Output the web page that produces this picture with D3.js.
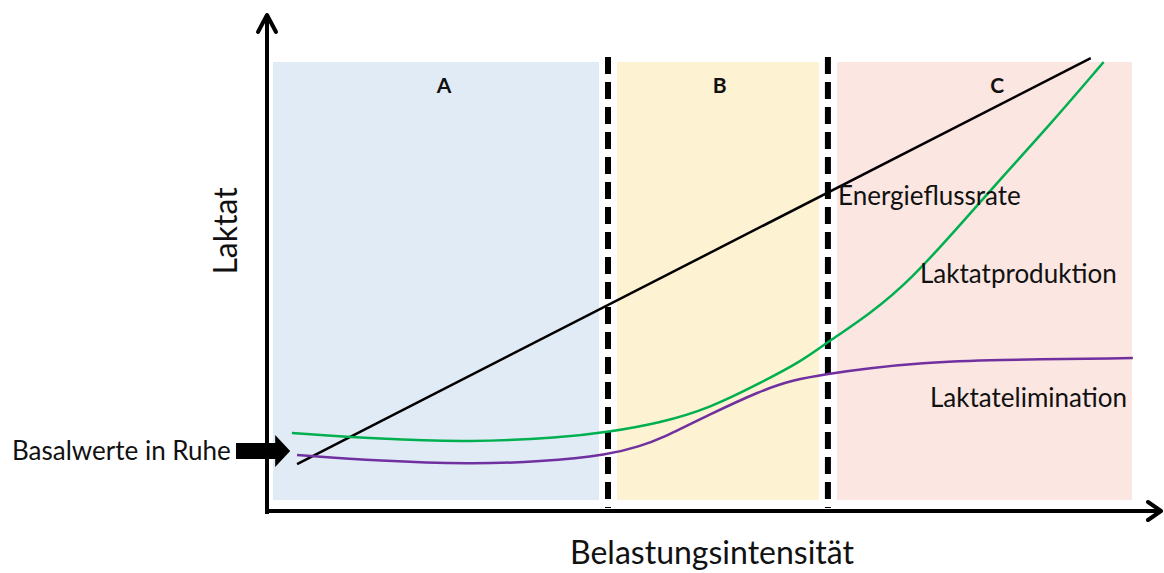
<!DOCTYPE html>
<html>
<head>
<meta charset="utf-8">
<script src="https://cdn.jsdelivr.net/npm/d3@7"></script>
<style>
    body { margin: 0; background: #fff; }
    svg { display: block; font-family: Lato, "Open Sans", sans-serif; }
    .lbl { font-size: 26px; fill: #111; }
    .zone { font-size: 21px; font-weight: bold; fill: #111; }
    .title { font-size: 32px; fill: #111; }
</style>
</head>
<body>
<div id="chart"></div>
<script>
// zones and their borders (Belastung in %)
var zoneNames = ["A", "B", "C"];
var zoneBorders = [0, 39.0, 64.6, 100];
var zoneLabelX = [19.9, 52.0, 84.3];
var zoneColors = ["#e1ebf6", "#fdf2d1", "#fbe6e1"];

// Laktatproduktion (green)
var prodX = [2.2, 12.5, 22.9, 33.5, 39.0, 45.1, 50.9, 56.7, 61.4, 64.6, 69.5, 74.2, 80.0, 84.6, 90.5, 96.7];
var prodY = [15.3, 13.9, 13.2, 14.2, 15.5, 17.6, 21.0, 26.7, 31.5, 36.1, 42.5, 50.2, 62.8, 73.1, 85.8, 100];

// Laktatelimination (purple)
var elimX = [2.8, 12.5, 22.9, 31.1, 39.2, 42.7, 45.1, 50.9, 56.7, 60.5, 64.5, 69.4, 75.3, 83.5, 100.1];
var elimY = [10.3, 8.9, 8.2, 8.7, 10.3, 12.3, 13.9, 19.6, 24.9, 27.4, 28.8, 30.1, 31.3, 32.0, 32.4];

// Energieflussrate (black, straight)
var energyX = [2.8, 95.2];
var energyY = [8.2, 100.9];

var basalY = 11.2;

var width = 1164, height = 573;
var x = d3.scaleLinear().domain([0, 100]).range([273, 1132]);
var y = d3.scaleLinear().domain([0, 100]).range([500, 62]);
var gap = 9;

var svg = d3.select("#chart").append("svg").attr("width", width).attr("height", height);

// background zones
zoneNames.forEach(function(z, i) {
    var x0 = x(zoneBorders[i]) + (i > 0 ? gap : 0),
        x1 = x(zoneBorders[i + 1]) - (i < zoneNames.length - 1 ? gap : 0);
    svg.append("rect").attr("x", x0).attr("y", y(100)).attr("width", x1 - x0)
        .attr("height", y(0) - y(100)).attr("fill", zoneColors[i]);
    svg.append("text").attr("class", "zone").attr("x", x(zoneLabelX[i])).attr("y", 93)
        .attr("text-anchor", "middle").text(z);
});

// dashed borders
zoneBorders.slice(1, -1).forEach(function(b) {
    svg.append("line").attr("x1", x(b)).attr("x2", x(b)).attr("y1", 57).attr("y2", 508)
        .attr("stroke", "#000").attr("stroke-width", 6).attr("stroke-dasharray", "17,8");
});

var line = d3.line().x(function(d) { return x(d[0]); }).y(function(d) { return y(d[1]); })
    .curve(d3.curveBasis);

svg.append("path").datum(d3.zip(energyX, energyY)).attr("d", line)
    .attr("fill", "none").attr("stroke", "#000").attr("stroke-width", 2.5);
svg.append("path").datum(d3.zip(prodX, prodY)).attr("d", line)
    .attr("fill", "none").attr("stroke", "#00b050").attr("stroke-width", 2.5);
svg.append("path").datum(d3.zip(elimX, elimY)).attr("d", line)
    .attr("fill", "none").attr("stroke", "#7030a0").attr("stroke-width", 2.5);

// axes with arrow heads
svg.append("path").attr("d", "M267,514V15").attr("stroke", "#000").attr("stroke-width", 4).attr("fill", "none");
svg.append("path").attr("d", "M258,32L267,15L276,32").attr("stroke", "#000").attr("stroke-width", 4)
    .attr("fill", "none").attr("stroke-linecap", "round").attr("stroke-linejoin", "round");
svg.append("path").attr("d", "M265,511H1160").attr("stroke", "#000").attr("stroke-width", 4).attr("fill", "none");
svg.append("path").attr("d", "M1148,502L1161,511L1148,520").attr("stroke", "#000").attr("stroke-width", 4)
    .attr("fill", "none").attr("stroke-linecap", "round").attr("stroke-linejoin", "round");

// basal arrow
var by = y(basalY), tip = x(2);
svg.append("path").attr("d", "M236," + (by - 8) + "H" + (tip - 15) + "V" + (by - 16) + "L" + tip + "," + by +
    "L" + (tip - 15) + "," + (by + 16) + "V" + (by + 8) + "H236Z").attr("fill", "#000");
svg.append("text").attr("class", "lbl").attr("font-size", "25.5px").attr("x", 12).attr("y", by + 9).text("Basalwerte in Ruhe");

// line labels
svg.append("text").attr("class", "lbl").attr("x", 838).attr("y", 205).text("Energieflussrate");
svg.append("text").attr("class", "lbl").attr("x", 920).attr("y", 283).text("Laktatproduktion");
svg.append("text").attr("class", "lbl").attr("x", 930).attr("y", 407).text("Laktatelimination");

// axis titles
svg.append("text").attr("class", "title").attr("font-size", "31px").attr("transform", "translate(237,231) rotate(-90)")
    .attr("text-anchor", "middle").text("Laktat");
svg.append("text").attr("class", "title").attr("x", 712).attr("y", 564)
    .attr("text-anchor", "middle").text("Belastungsintensität");
</script>
</body>
</html>
